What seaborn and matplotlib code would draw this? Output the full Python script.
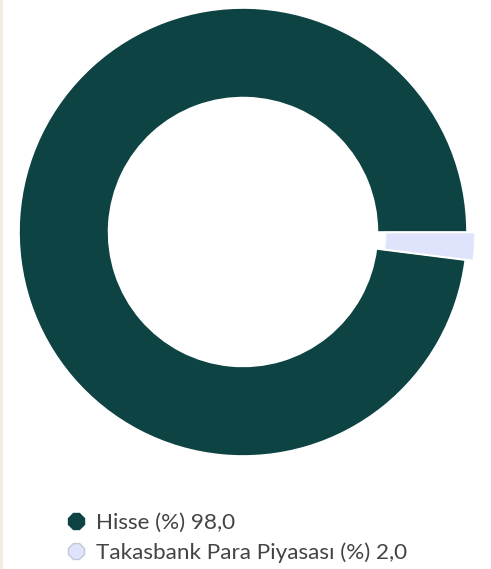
import matplotlib
matplotlib.use("Agg")
import matplotlib.pyplot as plt
import seaborn as sns
from matplotlib.lines import Line2D
from matplotlib.patches import Rectangle

labels = ["Hisse (%) 98,0", "Takasbank Para Piyasası (%) 2,0"]
values = [98.0, 2.0]
colors = ["#0d4342", "#dfe3fb"]
explode = [0.0, 0.036]

sns.set_theme(style="white")
plt.rcParams['font.family'] = ['Lato', 'DejaVu Sans']

W, H = 491, 569
fig = plt.figure(figsize=(W / 100, H / 100), dpi=100)
fig.patch.set_facecolor("white")

cx, cy, R = 243, 232, 224
lim = 1.1
size = 2 * lim * R
ax = fig.add_axes([(cx - size / 2) / W, 1 - (cy + size / 2) / H, size / W, size / H])
wedges, _ = ax.pie(values, colors=colors, startangle=0, counterclock=True,
                   explode=explode, radius=1.0,
                   wedgeprops=dict(width=0.4, edgecolor="white", linewidth=1.2))
ax.set_xlim(-lim, lim)
ax.set_ylim(-lim, lim)
ax.set_aspect("equal")
ax.axis("off")

fig.patches.append(Rectangle((0, 0), 3 / W, 1, transform=fig.transFigure,
                             facecolor="#f3ece4", edgecolor="none", zorder=0))

handles = [Line2D([], [], marker="8", linestyle="none", markersize=13,
                  markerfacecolor=c, markeredgecolor=("#0d4342" if i == 0 else "#c3c7d6"),
                  markeredgewidth=1.0)
           for i, c in enumerate(colors)]
leg = fig.legend(handles, labels, loc="upper left",
                 bbox_to_anchor=(53 / W, 1 - 502 / H), frameon=False,
                 prop=dict(family=['Lato', 'DejaVu Sans'], size=16.2, weight='normal'),
                 handletextpad=0.4, labelspacing=0.4,
                 handlelength=1.0, borderpad=0)
for t in leg.get_texts():
    t.set_color("#444444")

fig.savefig("out.png", dpi=100)
